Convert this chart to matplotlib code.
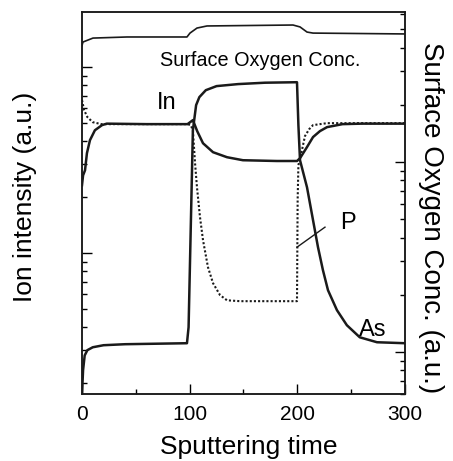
import matplotlib
matplotlib.use("Agg")
import matplotlib.pyplot as plt
from matplotlib.ticker import NullFormatter, MultipleLocator

plt.rcParams['font.family'] = ['Liberation Sans', 'DejaVu Sans']

# data (time, ion intensity a.u.)
as_t = [0, 1, 2.5, 5, 10, 20, 40, 97.5, 99, 103, 106, 109, 115, 125, 145, 170, 199.7,
        201, 202.5, 209, 214.6, 219.2, 223.8, 228.5, 236.8, 246, 258, 274, 300]
as_v = [0.00175, 0.00235, 0.00282, 0.00301, 0.00312, 0.00320, 0.00324, 0.00328, 0.0040,
        0.0458, 0.0625, 0.0690, 0.0752, 0.0791, 0.0811, 0.0825, 0.0830,
        0.0488, 0.0316, 0.0226, 0.01504, 0.01077, 0.00810, 0.00632, 0.00494, 0.00410,
        0.00353, 0.00332, 0.00328]

in_t = [0, 1, 2.8, 4.6, 7.4, 12, 18.6, 23, 60, 98, 103, 107, 112.4, 121.7, 134.7, 149.5,
        181, 199.7, 202.5, 209, 214.6, 221, 227.6, 242, 260, 300]
in_v = [0.0232, 0.0262, 0.0279, 0.0345, 0.0405, 0.0458, 0.0488, 0.0497, 0.0494, 0.0494,
        0.0519, 0.0453, 0.0390, 0.0349, 0.0328, 0.0316, 0.0313, 0.0313, 0.0324, 0.0372,
        0.0421, 0.0453, 0.0476, 0.0494, 0.0497, 0.0497]

p_t = [0, 2, 5, 10, 18, 60, 98, 101, 103, 105, 106.8, 109.6, 112.4, 117, 121.7, 128.2,
       134.7, 146.8, 199.7, 200.3, 201, 204.3, 207.1, 211, 214.6, 227.6, 300]
p_v = [0.0665, 0.0587, 0.0539, 0.0506, 0.0494, 0.0494, 0.0494, 0.0488, 0.0458, 0.0305,
       0.0226, 0.01563, 0.01175, 0.00841, 0.00690, 0.00595, 0.00558, 0.00552, 0.00552,
       0.0193, 0.0297, 0.0358, 0.0426, 0.0464, 0.0488, 0.0500, 0.0500]

# surface oxygen concentration (right axis, a.u.)
ox_t = [0, 0.9, 10.2, 41.8, 97.5, 100.3, 106.8, 116.1, 196, 202.5, 209, 214.6, 301]
ox_v = [4.1, 4.28, 4.49, 4.55, 4.55, 4.77, 5.07, 5.20, 5.26, 5.14, 4.83, 4.77, 4.72]

xticks = [0, 100, 200, 300]

fig = plt.figure(figsize=(4.53, 4.61), dpi=100)
ax = fig.add_axes([0.181, 0.145, 0.713, 0.829])
ax2 = ax.twinx()

ax.plot(as_t, as_v, color='#1a1a1a', lw=1.8)
ax.plot(in_t, in_v, color='#1a1a1a', lw=1.8)
ax.plot(p_t, p_v, color='#1a1a1a', lw=1.5, ls=(0, (1, 1)))
ax2.plot(ox_t, ox_v, color='#1a1a1a', lw=1.2)

ax.set_yscale('log')
ax.set_ylim(0.001746, 0.198)
ax.set_xlim(0, 300)
ax2.set_yscale('log')
ax2.set_ylim(0.060, 6.16)

ax.set_xticks(xticks)
ax.xaxis.set_minor_locator(MultipleLocator(50))
ax.tick_params(axis='x', which='major', direction='in', length=7, width=1, labelsize=15, pad=8)
ax.tick_params(axis='x', which='minor', direction='in', length=3.5, width=1)
ax.tick_params(axis='y', which='major', direction='in', length=7, width=1, labelleft=False)
ax.tick_params(axis='y', which='minor', direction='in', length=3.5, width=1, labelleft=False)
ax.yaxis.set_minor_formatter(NullFormatter())
ax2.tick_params(axis='y', which='major', direction='in', length=7, width=1, labelright=False)
ax2.tick_params(axis='y', which='minor', direction='in', length=3.5, width=1, labelright=False)
ax2.yaxis.set_minor_formatter(NullFormatter())

for a in (ax, ax2):
    for s in a.spines.values():
        s.set_linewidth(1.1)
        s.set_color('#1a1a1a')

ax.set_xlabel('Sputtering time', fontsize=19, va='center')
ax.xaxis.set_label_coords(0.517, -0.139)
ax.set_ylabel('Ion intensity (a.u.)', fontsize=19, va='center')
ax.yaxis.set_label_coords(-0.176, 0.516)
ax2.set_ylabel('Surface Oxygen Conc. (a.u.)', fontsize=20, rotation=-90, va='center')
ax2.yaxis.set_label_coords(1.080, 0.463)

ax.text(0.551, 0.874, 'Surface Oxygen Conc.', transform=ax.transAxes, fontsize=14.3,
        ha='center', va='center')
ax.text(79, 0.064, 'In', fontsize=17, ha='center', va='center')
ax.text(247, 0.0145, 'P', fontsize=17, ha='center', va='center')
ax.text(270, 0.00385, 'As', fontsize=17, ha='center', va='center')
ax.plot([199.7, 225.7], [0.01077, 0.0138], color='#1a1a1a', lw=1)

fig.savefig('out.png', dpi=100)
